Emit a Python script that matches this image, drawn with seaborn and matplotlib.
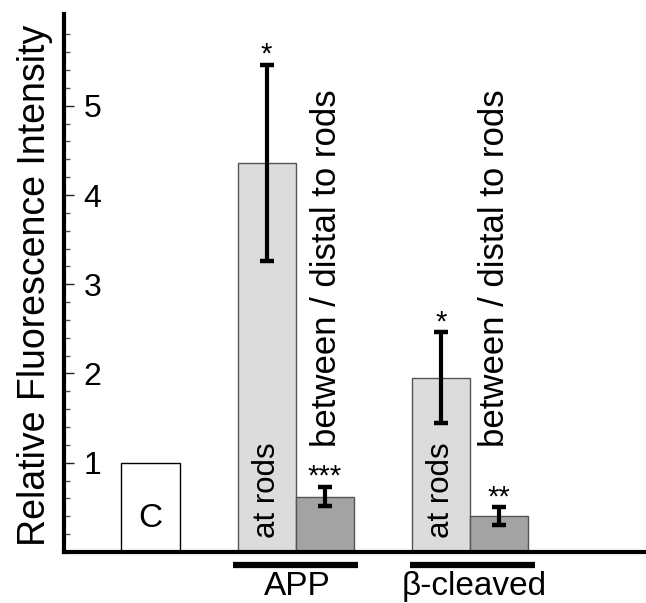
import matplotlib
matplotlib.use("Agg")
import matplotlib.pyplot as plt
import matplotlib.transforms as mtransforms
import seaborn as sns
import pandas as pd
import numpy as np

# ---- data ----
bar_names = ["C", "APP at rods", "APP between", "beta at rods", "beta between"]
bar_kind = ["control", "rods", "between", "rods", "between"]
bar_pos = [0, 2, 3, 5, 6]
bar_values = [1.0, 4.36, 0.62, 1.95, 0.40]
bar_errors = [np.nan, 1.10, 0.11, 0.51, 0.10]
bar_stars = ["", "*", "***", "*", "**"]
group_labels = ["APP", "β-cleaved"]
group_spans = [(1.42, 3.58), (4.47, 6.63)]
y_major = [1, 2, 3, 4, 5]

sns.set_style("white")
plt.rcParams["font.family"] = ["Liberation Sans", "DejaVu Sans"]
plt.rcParams["text.color"] = "black"
plt.rcParams["axes.labelcolor"] = "black"
plt.rcParams["ytick.color"] = "black"
plt.rcParams["ytick.labelcolor"] = "black"

fig = plt.figure(figsize=(6.46, 6.03), dpi=100)
ax = fig.add_axes([64 / 646, 51.1 / 603, 580 / 646, 538 / 603])

df = pd.DataFrame({"pos": bar_pos, "value": bar_values, "kind": bar_kind})
palette = {"control": "#ffffff", "rods": "#dcdcdc", "between": "#a3a3a3"}
sns.barplot(data=df, x="pos", y="value", hue="kind", palette=palette,
            native_scale=True, width=1.0, dodge=False, errorbar=None,
            legend=False, linewidth=1.0, edgecolor="#555555", ax=ax)
for p in ax.patches:
    fc = p.get_facecolor()
    if fc[0] > 0.99:
        p.set_edgecolor("black")

ax.errorbar(bar_pos, bar_values, yerr=bar_errors, fmt="none", ecolor="black",
            elinewidth=3, capsize=4.7, capthick=3.2, zorder=5)

# stars
for x, v, e, s in zip(bar_pos, bar_values, bar_errors, bar_stars):
    if s:
        ax.annotate(s, xy=(x, v + e), xytext=(0, 1.5), textcoords="offset points",
                    ha="center", va="baseline", fontsize=21, color="black")

# labels inside / above bars
ax.text(0, 0.37, "C", ha="center", va="center", fontsize=24)
for x in [2, 5]:
    ax.text(x, 0.16, "at rods", rotation=90, ha="center", va="bottom", fontsize=22.5)
for x in [3.03, 5.92]:
    ax.text(x, 1.18, "between / distal to rods", rotation=90, ha="center",
            va="bottom", fontsize=25)

# axes styling
ax.set_xlim(-1.49, 8.5)
ax.set_ylim(0, 6.03)
ax.set_xticks([])
ax.set_xlabel("")
ax.set_yticks(y_major)
ax.set_yticklabels([str(v) for v in y_major])
ax.set_yticks(np.arange(0.2, 6.0, 0.2), minor=True)
ax.tick_params(axis="y", which="both", left=True, right=False)
ax.tick_params(axis="y", which="major", direction="in", length=7, width=1,
               color="#222222", labelsize=23, pad=-14, labelcolor="black")
ax.tick_params(axis="y", which="minor", direction="in", length=4.5, width=1,
               color="#555555")
for lab in ax.get_yticklabels():
    lab.set_horizontalalignment("left")
ax.set_ylabel("Relative Fluorescence Intensity", fontsize=27, color="black")
ax.yaxis.set_label_coords(-0.019, 0.496)

for side in ["top", "right"]:
    ax.spines[side].set_visible(False)
for side in ["left", "bottom"]:
    ax.spines[side].set_linewidth(3)
    ax.spines[side].set_color("black")

# group bars and labels below axis
trans = mtransforms.blended_transform_factory(ax.transData, ax.transAxes)
for (x0, x1), lab in zip(group_spans, group_labels):
    ax.plot([x0, x1], [-0.024, -0.024], transform=trans, color="black",
            linewidth=4.5, solid_capstyle="butt", clip_on=False)
    ax.text((x0 + x1) / 2 + 0.02, -0.064, lab, transform=trans, ha="center",
            va="center", fontsize=24, color="black")

fig.savefig("out.png", dpi=100)
